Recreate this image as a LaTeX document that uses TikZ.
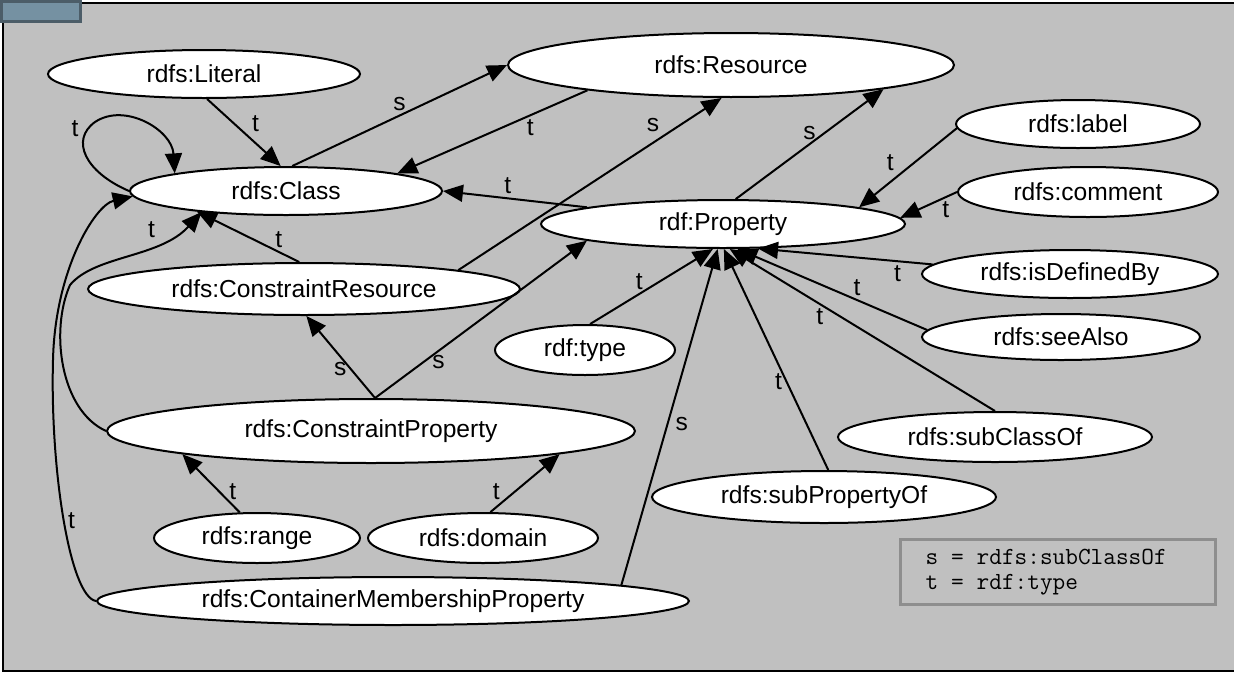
\documentclass[tikz,border=0pt]{standalone}
\usepackage{fontspec}
\setmainfont{Liberation Sans}
\usepackage{tikz}
\usetikzlibrary{shapes.geometric, arrows.meta}
\definecolor{bggray}{HTML}{C0C0C0}
\definecolor{keygray}{HTML}{8E8E8E}
\definecolor{tabfill}{HTML}{7591A2}
\definecolor{tabedge}{HTML}{4C5D68}
\newcommand{\gap}{\hspace{.525em}}

\begin{document}
\begin{tikzpicture}[x=0.02cm, y=-0.02cm,
    term/.style={ellipse, draw, fill=white, line width=0.04cm, inner sep=0pt,
        font=\fontsize{14}{16}\selectfont},
    rel/.style={-{Triangle[length=0.4cm, width=0.34cm]}, line width=0.04cm},
    lbl/.style={font=\fontsize{14}{16}\selectfont, inner sep=2pt}]
    \useasboundingbox (0,0) rectangle (1234,674);
    \fill [bggray] (3,3) rectangle (1234,671);
    \draw [line width=0.04cm] (1234,3) -- (3,3) -- (3,671) -- (1234,671);
    \draw [tabedge, fill=tabfill, line width=0.06cm] (1.5,1.5) rectangle (80,21);

    \node (literal) [term, minimum width=6.24cm, minimum height=0.96cm] at (204,74) {rdfs:Literal};
    \node (resource) [term, minimum width=8.92cm, minimum height=1.28cm] at (731,65) {rdfs:Resource};
    \node (class) [term, minimum width=6.24cm, minimum height=0.96cm] at (286,191) {rdfs:Class};
    \node (property) [term, minimum width=7.28cm, minimum height=0.96cm] at (723,224) {rdf:Property};
    \node (label) [term, minimum width=4.88cm, minimum height=0.96cm] at (1078,124) {rdfs:label};
    \node (comment) [term, minimum width=5.2cm, minimum height=1cm] at (1088,192) {rdfs:comment};
    \node (definedby) [term, minimum width=5.92cm, minimum height=0.96cm] at (1070,274) {rdfs:isDefinedBy};
    \node (seealso) [term, minimum width=5.56cm, minimum height=0.92cm] at (1061,337) {rdfs:seeAlso};
    \node (subclass) [term, minimum width=6.28cm, minimum height=1cm] at (995,437) {rdfs:subClassOf};
    \node (subprop) [term, minimum width=6.88cm, minimum height=1.04cm] at (824,497) {rdfs:subPropertyOf};
    \node (type) [term, minimum width=3.6cm, minimum height=1cm] at (585,350) {rdf:type};
    \node (conres) [term, minimum width=8.64cm, minimum height=1.04cm] at (304,289) {rdfs:ConstraintResource};
    \node (conprop) [term, minimum width=10.56cm, minimum height=1.28cm] at (371,431) {rdfs:ConstraintProperty};
    \node (range) [term, minimum width=4.12cm, minimum height=1cm] at (257,538) {rdfs:range};
    \node (domain) [term, minimum width=4.6cm, minimum height=1cm] at (483,538) {rdfs:domain};
    \node (member) [term, minimum width=11.84cm, minimum height=0.96cm] at (393,601) {rdfs:ContainerMembershipProperty};

    \node (key) [draw=keygray, line width=0.06cm, minimum width=6.32cm, minimum height=1.3cm,
        text width=5.3cm, align=left, font=\ttfamily\fontsize{14}{14.5}\selectfont]
        at (1058,572) {s\gap=\gap rdfs:subClassOf\\t\gap=\gap rdf:type};

    \path [rel]
    (literal.-83) edge node [lbl, pos=.55, above right] {t} (class.102)
    (class.76) edge node [lbl, above] {s} (resource.180)
    (resource.190) edge node [lbl, pos=.3, below] {t} (class.9)
    (property.173) edge node [lbl, pos=.55, above] {t} (class.0)
    (property.63) edge node [lbl, above] {s} (resource.-9)
    (conres.7) edge node [lbl, pos=.78, above left] {s} (resource.-106)
    (conres.100) edge node [lbl, pos=.2, above] {t} (class.193)
    (conprop.83) edge node [lbl, pos=.35, left] {s} (conres.-85)
    (conprop.83) edge node [lbl, pos=.3, below] {s} (property.187)
    (range.124) edge node [lbl, pos=.35, right=3pt] {t} (conprop.187)
    (domain.74) edge node [lbl, pos=.35, left=6pt] {t} (conprop.-7)
    (member.4) edge node [lbl, pos=.48, right=2pt] {s} (property.-102)
    (type.79) edge node [lbl, pos=.4, above] {t} (property.-112)
    (label.182) edge node [lbl, pos=.6, above left] {t} (property.7)
    (comment.180) edge node [lbl, pos=.2, below] {t} (property.2)
    (definedby.176) edge node [lbl, pos=.2, below] {t} (property.-35)
    (seealso.177) edge node [lbl, pos=.37, above] {t} (property.-60)
    (subclass.90) edge node [lbl, pos=.66, below] {t} (property.-75)
    (subprop.81) edge node [lbl, pos=.4, left] {t} (property.-88);

    % curved type links on the left
    \draw [rel] (class.180) .. controls (85,172) and (70,140) .. (95,122) node [lbl, pos=.7, above left] {t}
        .. controls (125,102) and (172,130) .. (class.171);
    \draw [rel] (conprop.180) .. controls (60,410) and (50,330) .. (70,285)
        .. controls (95,255) and (160,258) .. (class.194) node [lbl, pos=.7, above left] {t};
    \draw [rel] (member.180) .. controls (70,597) and (50,470) .. (53,360) node [lbl, pos=.5, right] {t}
        .. controls (55,270) and (95,205) .. (class.182);
\end{tikzpicture}
\end{document}
